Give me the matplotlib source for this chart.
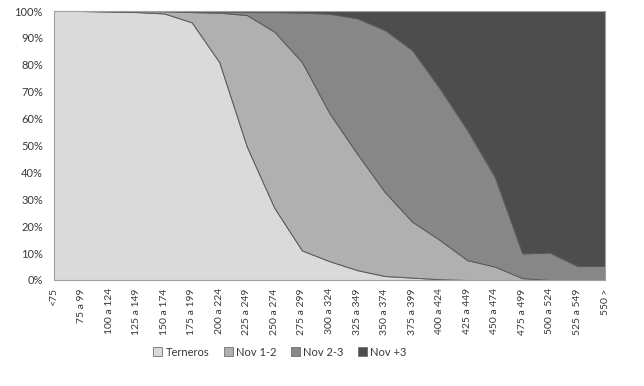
import matplotlib
matplotlib.use('Agg')
from matplotlib import pyplot as plt
from matplotlib.patches import Patch
import numpy as np

plt.rcParams['font.family'] = ['Lato', 'DejaVu Sans']

categories = ['<75', '75 a 99', '100 a 124', '125 a 149', '150 a 174', '175 a 199',
              '200 a 224', '225 a 249', '250 a 274', '275 a 299', '300 a 324',
              '325 a 349', '350 a 374', '375 a 399', '400 a 424', '425 a 449',
              '450 a 474', '475 a 499', '500 a 524', '525 a 549', '550 >']

# porcentajes por categoria
terneros = [100, 100, 99.8, 99.6, 99.1, 95.8, 81, 49.6, 26.8, 11, 7,
            3.7, 1.5, 0.9, 0.3, 0, 0, 0, 0, 0, 0]
nov_1_2 = [0, 0, 0.2, 0.4, 0.8, 3.8, 18.4, 48.9, 65.5, 70, 55,
           43.3, 31.3, 20.8, 14.6, 7.4, 5, 0.7, 0, 0, 0]
nov_2_3 = [0, 0, 0, 0, 0.1, 0.4, 0.4, 1.1, 7.3, 18.4, 37,
           50.3, 60.2, 63.8, 56.4, 48.4, 33.4, 9.2, 10.2, 5.2, 5.2]
nov_3 = [0, 0, 0, 0, 0, 0, 0.2, 0.4, 0.4, 0.6, 1,
         2.7, 7, 14.5, 28.7, 44.2, 61.6, 90.1, 89.8, 94.8, 94.8]

series_names = ['Terneros', 'Nov 1-2', 'Nov 2-3', 'Nov +3']
colors = ['#dadada', '#b0b0b0', '#878787', '#4d4d4d']

fig = plt.figure(figsize=(6.44, 3.86), dpi=100)
ax = fig.add_axes([54 / 644, 1 - 280 / 386, 551 / 644, 269 / 386])

x = np.arange(len(categories))
ax.stackplot(x, terneros, nov_1_2, nov_2_3, nov_3, colors=colors,
             edgecolor='#5a5a5a', linewidth=0.7)

ax.set_xlim(0, len(categories) - 1)
ax.set_ylim(0, 100)
ax.set_xticks(x)
ax.set_xticklabels(categories, rotation=90, fontsize=7.5, color='#383838')
ax.set_yticks(np.arange(0, 101, 10))
ax.set_yticklabels([f"{v}%" for v in range(0, 101, 10)], fontsize=8, color='#383838')
ax.tick_params(axis='y', length=0, pad=8)
ax.tick_params(axis='x', length=0, pad=6)
for s in ax.spines.values():
    s.set_color('#a0a0a0')
    s.set_linewidth(0.8)

handles = [Patch(facecolor=c, edgecolor='#707070', linewidth=0.6) for c in colors]
fig.legend(handles, series_names, loc='center', bbox_to_anchor=(280 / 644, 1 - 352 / 386),
           ncol=4, frameon=False, fontsize=8, handlelength=0.8, handleheight=0.8,
           handletextpad=0.3, columnspacing=1.3, labelcolor='#383838')

fig.savefig('out.png', dpi=100)
